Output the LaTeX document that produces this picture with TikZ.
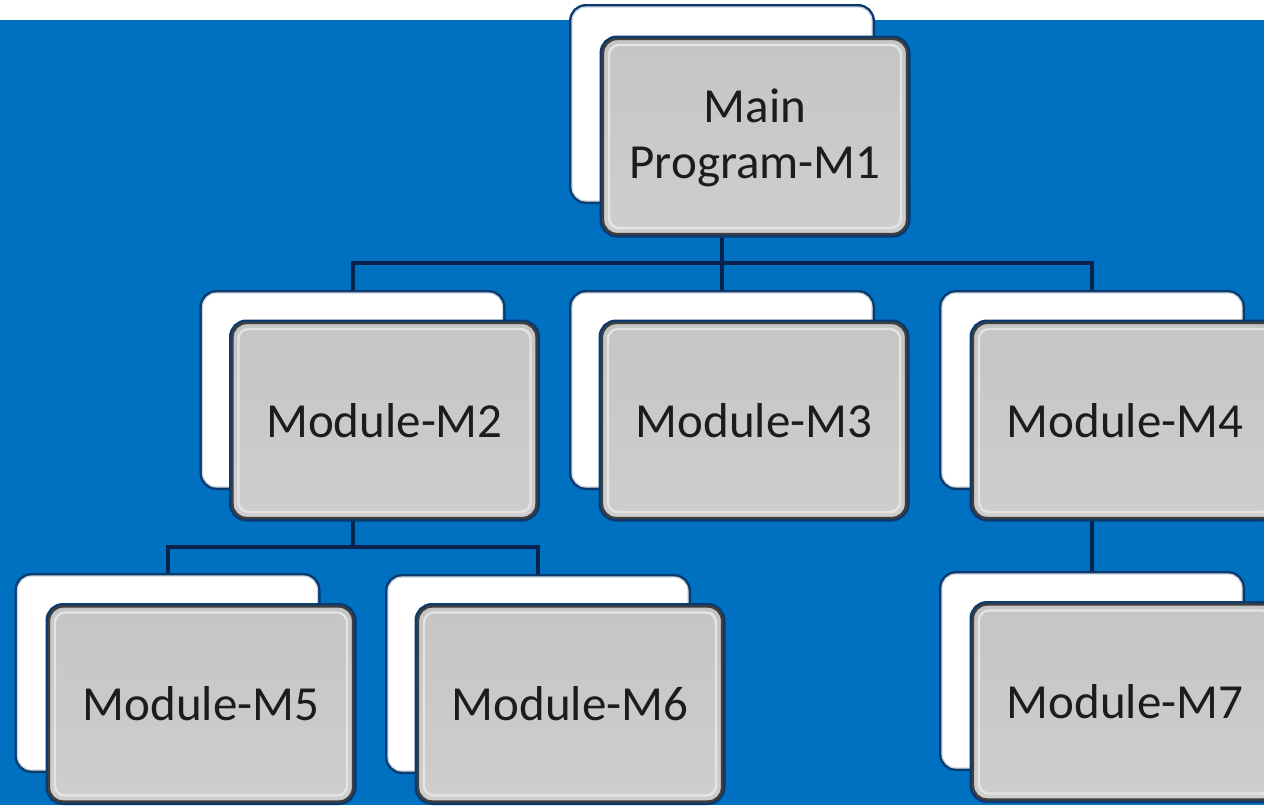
\documentclass[tikz,border=0pt]{standalone}
\usepackage{fontspec}
\setmainfont{Carlito}
\definecolor{bgblue}{RGB}{0,112,192}
\definecolor{linec}{RGB}{10,34,78}
\definecolor{shadowblue}{RGB}{10,58,110}
\definecolor{cardedge}{RGB}{205,214,224}
\definecolor{fronttop}{RGB}{197,197,197}
\definecolor{frontbot}{RGB}{206,206,206}
\definecolor{frontedge}{RGB}{62,62,62}
\definecolor{highlightc}{RGB}{228,228,228}
\definecolor{textc}{RGB}{28,28,28}
\pgfdeclarelayer{linelayer}
\pgfsetlayers{linelayer,main}
\begin{document}
\begin{tikzpicture}[x=0.5pt,y=-0.5pt,
  backcard/.style={rounded corners=7pt, fill=white, draw=cardedge, line width=0.6pt,
    minimum width=150pt, minimum height=97pt, inner sep=0pt, outer sep=0pt,
    preaction={draw=shadowblue, line width=3pt}},
  frontcard/.style={rounded corners=7pt, draw=frontedge, line width=1.2pt,
    top color=fronttop, bottom color=frontbot,
    minimum width=152pt, minimum height=97.5pt, inner sep=0pt, outer sep=0pt,
    font=\fontsize{24.5pt}{28pt}\selectfont, text=textc, align=center,
    preaction={draw=shadowblue, line width=3.5pt},
    path picture={\draw[highlightc, line width=1.2pt, rounded corners=5pt]
      ([shift={(3pt,-3pt)}]path picture bounding box.north west) rectangle
      ([shift={(-3pt,3pt)}]path picture bounding box.south east);}},
  conn/.style={draw=linec, line width=2pt}]
\useasboundingbox (0,0) rectangle (1264,805);
\begin{pgfonlayer}{linelayer}
\fill[white] (0,0) rectangle (1264,805);
\fill[bgblue] (0,20) rectangle (1264,805);
\end{pgfonlayer}
\clip (0,0) rectangle (1264,805);
% cards
\node[backcard] (m1b) at (722,104) {};
\node[frontcard] (m1) at (755,136.5) {\rule{0pt}{18pt}Main\\Program-M1};
\node[backcard] (m2b) at (352.5,390) {};
\node[frontcard] (m2) at (384.5,420.5) {Module-M2};
\node[backcard] (m3b) at (722,390) {};
\node[frontcard] (m3) at (754,420.5) {Module-M3};
\node[backcard] (m4b) at (1092,390) {};
\node[frontcard] (m4) at (1125,420.5) {Module-M4};
\node[backcard] (m5b) at (167.5,673) {};
\node[frontcard] (m5) at (201,704) {Module-M5};
\node[backcard] (m6b) at (538,674) {};
\node[frontcard] (m6) at (570,704) {Module-M6};
\node[backcard] (m7b) at (1092,671) {};
\node[frontcard] (m7) at (1125,702) {Module-M7};
\coordinate (j1) at (722,263);
\coordinate (j2) at (m2b.center |- 0,547);
\begin{pgfonlayer}{linelayer}
\draw[conn] (m1b.center) -- (j1);
\draw[conn] (m2b.north) |- (j1) -| (m4b.north);
\draw[conn] (j1) -- (m3b.north);
\draw[conn] (m2b.center) -- (j2);
\draw[conn] (m5b.north) |- (j2) -| (m6b.north);
\draw[conn] (m4b.center) -- (m7b.north);
\end{pgfonlayer}
\end{tikzpicture}
\end{document}
